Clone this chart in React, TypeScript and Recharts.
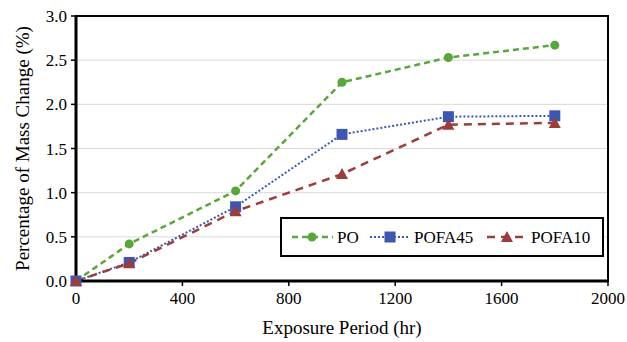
import React from 'react';
import { LineChart, Line, XAxis, YAxis, CartesianGrid, ReferenceArea, Label } from 'recharts';

const hours = [0, 200, 600, 1000, 1400, 1800];
const po = [0, 0.42, 1.02, 2.25, 2.53, 2.67];
const pofa45 = [0, 0.21, 0.84, 1.66, 1.86, 1.87];
const pofa10 = [0, 0.2, 0.79, 1.21, 1.77, 1.79];
const xTicks = [0, 400, 800, 1200, 1600, 2000];
const yTicks = [0, 0.5, 1.0, 1.5, 2.0, 2.5, 3.0];

const GREEN = '#58a63c';
const BLUE = '#3c56b4';
const RED = '#9c3d3b';
const FONT = "'Liberation Serif', 'Times New Roman', serif";
const txt = { fontFamily: FONT, fontSize: 17, fill: '#000' };

const data = hours.map((h, i) => ({ h, po: po[i], pofa45: pofa45[i], pofa10: pofa10[i] }));

const Circle = (p: any) => (
  <circle key={`c${p.index}`} cx={p.cx} cy={p.cy} r={4.5} fill={GREEN} stroke="none" />
);
const Square = (p: any) => (
  <rect key={`s${p.index}`} x={p.cx - 5.5} y={p.cy - 5.5} width={11} height={11} fill={BLUE} stroke="none" />
);
const Tri = (p: any) => (
  <path
    key={`t${p.index}`}
    d={`M${p.cx},${p.cy - 6} L${p.cx + 6},${p.cy + 5} L${p.cx - 6},${p.cy + 5} Z`}
    fill={RED}
    stroke="none"
  />
);

const XTick = (p: any) => (
  <text x={p.x} y={p.y} dy={13} textAnchor="middle" style={txt}>
    {p.payload.value}
  </text>
);
const YTick = (p: any) => (
  <text x={p.x} y={p.y} dy={6} textAnchor="end" style={txt}>
    {Number(p.payload.value).toFixed(1)}
  </text>
);

const LegendBox = () => (
  <svg width={324} height={40} style={{ display: 'block' }}>
    <rect x={1} y={1} width={322} height={38} fill="#fff" stroke="#000" strokeWidth={2} />
    <line x1={12} y1={20} x2={53} y2={20} stroke={GREEN} strokeWidth={2.5} strokeDasharray="6 4" />
    <circle cx={32} cy={20} r={4.5} fill={GREEN} />
    <text x={57} y={26} style={txt}>PO</text>
    <line x1={90} y1={20} x2={130} y2={20} stroke={BLUE} strokeWidth={2} strokeDasharray="2 2" />
    <rect x={104.5} y={14.5} width={11} height={11} fill={BLUE} />
    <text x={134} y={26} style={txt}>POFA45</text>
    <line x1={207} y1={20} x2={248} y2={20} stroke={RED} strokeWidth={2.5} strokeDasharray="8 6" />
    <path d="M227,14 L233,25 L221,25 Z" fill={RED} />
    <text x={251} y={26} style={txt}>POFA10</text>
  </svg>
);

export default function App() {
  return (
    <div style={{ position: 'absolute', left: 0, top: 0, width: 627, height: 342, background: '#fff', fontFamily: FONT }}>
      <LineChart width={627} height={342} data={data} margin={{ top: 16, right: 19, left: 0, bottom: 0 }} style={{ fontFamily: FONT }}>
        <CartesianGrid vertical={false} stroke="#d9d9d9" strokeWidth={1} />
        <XAxis
          dataKey="h"
          type="number"
          domain={[0, 2000]}
          ticks={xTicks}
          height={61}
          tickSize={5}
          tickMargin={5}
          tick={<XTick />}
          axisLine={{ stroke: '#000', strokeWidth: 3 }}
          tickLine={{ stroke: '#000', strokeWidth: 1.5 }}
        >
          <Label value="Exposure Period (hr)" position="center" dy={16} style={{ fontFamily: FONT, fontSize: 19, fill: '#000' }} />
        </XAxis>
        <YAxis
          type="number"
          domain={[0, 3]}
          ticks={yTicks}
          width={76}
          tickSize={5}
          tickMargin={4}
          tick={<YTick />}
          axisLine={{ stroke: '#000', strokeWidth: 3 }}
          tickLine={{ stroke: '#000', strokeWidth: 1.5 }}
        >
          <Label
            value="Percentage of Mass Change (%)"
            angle={-90}
            position="center"
            dx={-16}
            style={{ fontFamily: FONT, fontSize: 19, fill: '#000', textAnchor: 'middle' }}
          />
        </YAxis>
        <ReferenceArea x1={0} x2={2000} y1={0} y2={3} fill="none" stroke="#000" strokeWidth={2} ifOverflow="visible" />
        <Line dataKey="po" stroke={GREEN} strokeWidth={2.5} strokeDasharray="6 4" dot={Circle} isAnimationActive={false} />
        <Line dataKey="pofa45" stroke={BLUE} strokeWidth={2} strokeDasharray="2 2" dot={Square} isAnimationActive={false} />
        <Line dataKey="pofa10" stroke={RED} strokeWidth={2.5} strokeDasharray="8 6" dot={Tri} isAnimationActive={false} />
      </LineChart>
      <div style={{ position: 'absolute', left: 280, top: 217 }}>
        <LegendBox />
      </div>
    </div>
  );
}
